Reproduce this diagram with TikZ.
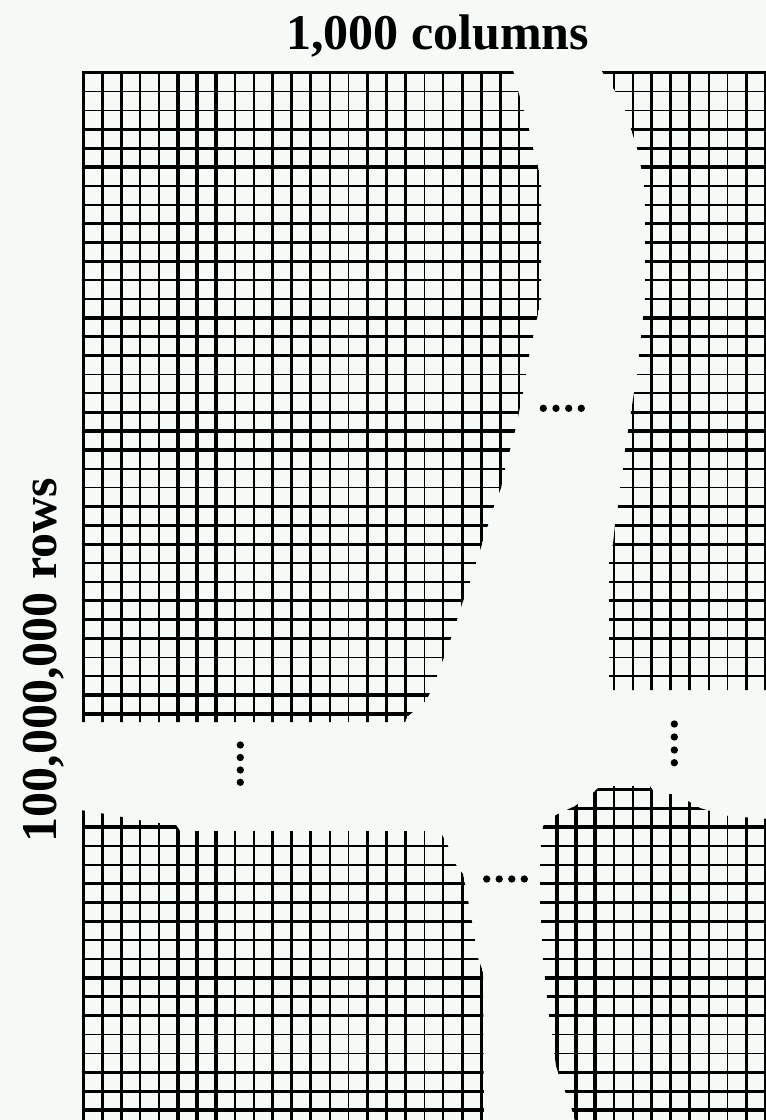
\documentclass[tikz,border=0pt]{standalone}
\usepackage{fontspec}
\setmainfont{Liberation Serif}
\definecolor{bgmint}{RGB}{246,250,247}
\newcommand\gridthick{2.45pt}
\newcommand\gridthin{1.3pt}
\newcommand\drawgridlines{%
  \foreach \i in {0,...,36}{%
    \pgfmathtruncatemacro\mm{mod(\i,5)}%
    \ifnum\mm<3
      \draw[line width=\gridthick] ({83.3+18.95*\i},71) -- ({83.3+18.95*\i},1125);
    \else
      \draw[line width=\gridthin] ({83.3+18.95*\i},71) -- ({83.3+18.95*\i},1125);
    \fi}%
  \foreach \j in {0,...,55}{%
    \pgfmathtruncatemacro\mm{mod(\j,5)}%
    \ifnum\mm=1
      \draw[line width=\gridthin] (82,{72.7+18.86*\j}) -- (770,{72.7+18.86*\j});
    \else\ifnum\mm=2
      \draw[line width=\gridthin] (82,{72.7+18.86*\j}) -- (770,{72.7+18.86*\j});
    \else
      \draw[line width=\gridthick] (82,{72.7+18.86*\j}) -- (770,{72.7+18.86*\j});
    \fi\fi}%
}
\tikzset{
  dot/.style={fill=black},
  label text/.style={font=\fontsize{37.5}{40}\selectfont\bfseries, inner sep=0pt}
}
\begin{document}
\begin{tikzpicture}[x=0.75pt,y=-0.75pt]
\fill[bgmint] (0,0) rectangle (766,1120);
\useasboundingbox (0,0) rectangle (766,1120);

% top-left block
\begin{scope}
\clip (80,70) -- (513,70) -- (518,91) -- (524,110) -- (529,129) -- (533,148)
  -- (536,160) -- (541,178) -- (541,300) -- (537,318) -- (533,337) -- (529,356)
  -- (526,374) -- (523,393) -- (519,412) -- (515,431) -- (510,450) -- (505,469)
  -- (501,488) -- (494,506) -- (488,525) -- (482,544) -- (476,563) -- (470,582)
  -- (463,601) -- (457,620) -- (451,638) -- (444,657) -- (437,676) -- (429,695)
  -- (425,702) -- (408,716) -- (405,722) -- (80,722) -- cycle;
\drawgridlines
\end{scope}

% top-right block
\begin{scope}
\clip (601,70) -- (770,70) -- (770,690) -- (609,690) -- (609,556) -- (613,544)
  -- (615,525) -- (618,506) -- (620,488) -- (623,469) -- (625,450) -- (628,431)
  -- (631,412) -- (634,393) -- (637,374) -- (639,355) -- (641,337) -- (643,318)
  -- (645,299) -- (645,205) -- (644,186) -- (641,167) -- (637,148) -- (631,129)
  -- (625,110) -- (615,91) -- cycle;
\drawgridlines
\end{scope}

% bottom-left block
\begin{scope}
\clip (80,810) -- (100,813) -- (122,817) -- (150,822) -- (176,825) -- (180,831)
  -- (440,831) -- (448,846) -- (456,865) -- (463,874) -- (468,900) -- (472,922)
  -- (475,940) -- (478,958) -- (483,972) -- (484,1125) -- (80,1125) -- cycle;
\drawgridlines
\end{scope}

% bottom-right block
\begin{scope}
\clip (543,826) -- (556,815) -- (575,806) -- (594,792) -- (600,786) -- (650,786)
  -- (655,794) -- (671,794) -- (690,802) -- (700,808) -- (710,811) -- (728,816)
  -- (770,819) -- (770,1125) -- (576,1125) -- (572,1110) -- (565,1091)
  -- (558,1072) -- (556,1066) -- (552,1034) -- (549,1015) -- (547,997)
  -- (545,978) -- (543,960) -- (542,940) -- (541,920) -- (540,900) -- (540,864)
  -- (541,845) -- cycle;
\drawgridlines
\end{scope}

% ellipsis dots
\foreach \x in {543.3,556,568.7,581.3}{\fill[dot] (\x,408.3) circle[radius=2.75pt];}
\foreach \x in {486.7,499.2,511.8,524.3}{\fill[dot] (\x,879) circle[radius=2.75pt];}
\foreach \y in {745,757.5,770,782.3}{\fill[dot] (240.3,\y) circle[radius=2.75pt];}
\foreach \y in {724,737,750,762.7}{\fill[dot] (674.3,\y) circle[radius=2.75pt];}

% labels
\node[label text, anchor=base] (cols) at (437.5,50) {1,000 columns};
\node[label text, anchor=base, rotate=90] (rows) at (56,660) {100,000,000 rows};
\end{tikzpicture}
\end{document}
